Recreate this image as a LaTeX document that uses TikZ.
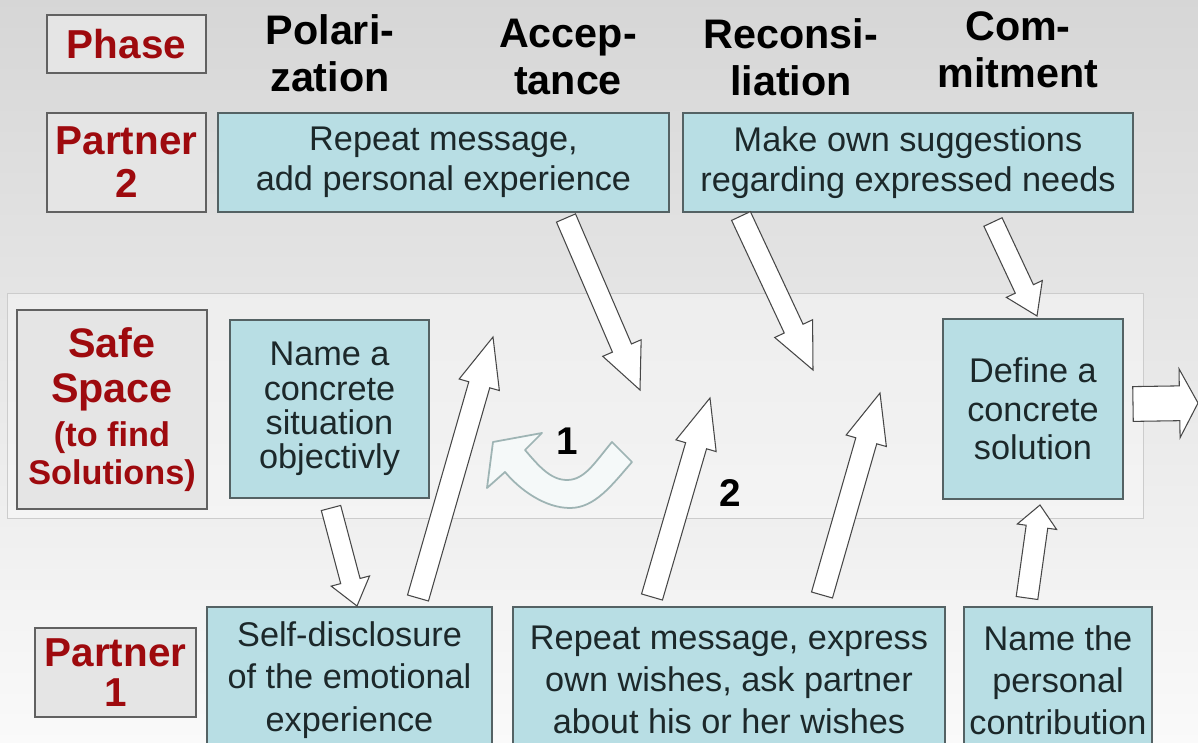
\documentclass[tikz,border=0pt]{standalone}
\usepackage{fontspec}
\setmainfont{Liberation Sans}
\usetikzlibrary{calc}

\definecolor{boxcyan}{RGB}{184,222,228}
\definecolor{boxline}{RGB}{84,98,100}
\definecolor{boxtext}{RGB}{28,40,42}
\definecolor{lblred}{RGB}{158,10,14}
\definecolor{lblfill}{RGB}{229,229,229}
\definecolor{curvline}{RGB}{158,180,180}
\definecolor{curvfill}{RGB}{245,249,249}

% block arrow: tail, tip, half shaft, half head, head length
\newcommand\blockarrow[5]{%
  \coordinate (#1#2h) at ($(#2)!#5!(#1)$);
  \draw [barrow] ($(#1)!#3!90:(#2)$) -- ($(#1#2h)!#3!90:(#2)$)
    -- ($(#1#2h)!#4!90:(#2)$) -- (#2) -- ($(#1#2h)!#4!-90:(#2)$)
    -- ($(#1#2h)!#3!-90:(#2)$) -- ($(#1)!#3!-90:(#2)$) -- cycle;}

\begin{document}
\begin{tikzpicture}[x=0.02cm, y=-0.02cm,
  hdr/.style={font=\fontsize{23.5}{27}\selectfont\bfseries, align=center},
  lbl/.style={draw=black!62, fill=lblfill, line width=0.8pt, text=lblred,
    font=\fontsize{23}{24.4}\selectfont\bfseries, align=center, inner sep=0pt},
  task/.style={draw=boxline, fill=boxcyan, line width=0.8pt, text=boxtext,
    font=\fontsize{19.5}{22.7}\selectfont, align=center, inner sep=0pt},
  num/.style={font=\fontsize{22}{22}\selectfont\bfseries},
  barrow/.style={draw=black!72, fill=white, line width=0.6pt}]
\useasboundingbox (0,0) rectangle (1198,743);
\clip (0,0) rectangle (1198,743);
\fill [top color=black!16, bottom color=black!2] (0,0) rectangle (1198,743);
\draw [black!20, fill=white, fill opacity=0.35] (7,293) rectangle (1143,518);

\node [lbl, minimum width=3.18cm, minimum height=1.16cm] (phase) at (126.5,44) {Phase};
\node [hdr] (polar) at (330,53) {Polari-\\zation};
\node [hdr] (accept) at (568,57) {Accep-\\tance};
\node [hdr] (recon) at (791,57) {Reconsi-\\liation};
\node [hdr] (commit) at (1018,50) {Com-\\mitment};

\node [lbl, minimum width=3.18cm, minimum height=1.98cm] (partner2) at (126.5,162.5) {Partner\\2};
\node [task, minimum width=9.02cm, minimum height=1.98cm] (p2a) at (443.5,162.5)
  {Repeat message,\\add personal experience};
\node [task, minimum width=9cm, minimum height=1.98cm] (p2b) at (908,162.5)
  {Make own suggestions\\regarding expressed needs};

\node [lbl, minimum width=3.8cm, minimum height=3.98cm, font=\fontsize{23.5}{25.5}\selectfont\bfseries]
  (safe) at (112,409.5)
  {Safe\\Space\\{\fontsize{19.5}{21}\selectfont (to find}\\[-4pt]{\fontsize{19.5}{21}\selectfont Solutions)}};
\node [task, minimum width=3.98cm, minimum height=3.56cm, font=\fontsize{19.5}{19.5}\selectfont]
  (name) at (329.5,409) {Name a\\concrete\\situation\\objectivly};
\node [task, minimum width=3.6cm, minimum height=3.6cm, font=\fontsize{19.5}{22}\selectfont]
  (define) at (1033,409) {Define a\\concrete\\solution};

\node [lbl, minimum width=3.22cm, minimum height=1.78cm, font=\fontsize{23}{22.7}\selectfont\bfseries]
  (partner1) at (115.5,672.5) {Partner\\1};
\node [task, minimum width=5.7cm, minimum height=2.92cm, font=\fontsize{19.5}{24}\selectfont]
  (self) at (349.5,680) {Self-disclosure\\of the emotional\\experience};
\node [task, minimum width=8.64cm, minimum height=2.92cm, font=\fontsize{19.5}{24}\selectfont]
  (rep) at (729,680) {Repeat message, express\\own wishes, ask partner\\about his or her wishes};
\node [task, minimum width=3.76cm, minimum height=2.92cm, font=\fontsize{19.5}{24}\selectfont]
  (npc) at (1058,680) {Name the\\personal\\contribution};

\coordinate (s1) at (566,218);  \coordinate (t1) at (640,390);
\coordinate (s2) at (741,216);  \coordinate (t2) at (813,370);
\coordinate (s3) at (993,222);  \coordinate (t3) at (1037,316);
\coordinate (s4) at (331,508);  \coordinate (t4) at (357,606);
\coordinate (s5) at (418,598);  \coordinate (t5) at (493,337);
\coordinate (s6) at (652,597);  \coordinate (t6) at (710,398);
\coordinate (s7) at (822,595);  \coordinate (t7) at (880,393);
\coordinate (s8) at (1027,598); \coordinate (t8) at (1040,505);
\coordinate (s9) at (1133,404); \coordinate (t9) at (1198,403);

\blockarrow{s1}{t1}{5.9pt}{11.9pt}{26pt}
\blockarrow{s2}{t2}{5.9pt}{11.9pt}{26pt}
\blockarrow{s3}{t3}{5.7pt}{11.3pt}{17pt}
\blockarrow{s4}{t4}{5.7pt}{11.3pt}{14.7pt}
\blockarrow{s5}{t5}{6.2pt}{11.9pt}{28.3pt}
\blockarrow{s6}{t6}{6.2pt}{11.9pt}{28.3pt}
\blockarrow{s7}{t7}{6.2pt}{11.9pt}{28.3pt}
\blockarrow{s8}{t8}{6.2pt}{11.3pt}{12.5pt}
\blockarrow{s9}{t9}{9.9pt}{19.6pt}{10.5pt}

\draw [curvline, fill=curvfill, line width=1pt, line join=round]
  (612,442) .. controls (595,462) and (585,480) .. (567,480)
  .. controls (550,480) and (538,465) .. (525,450) -- (542,433) -- (493,442)
  -- (487,488) -- (505,472) .. controls (520,490) and (545,508) .. (570,508)
  .. controls (595,508) and (612,485) .. (632,462) -- cycle;
\node [num] (one) at (567,441) {1};
\node [num] (two) at (730,493) {2};
\end{tikzpicture}
\end{document}
